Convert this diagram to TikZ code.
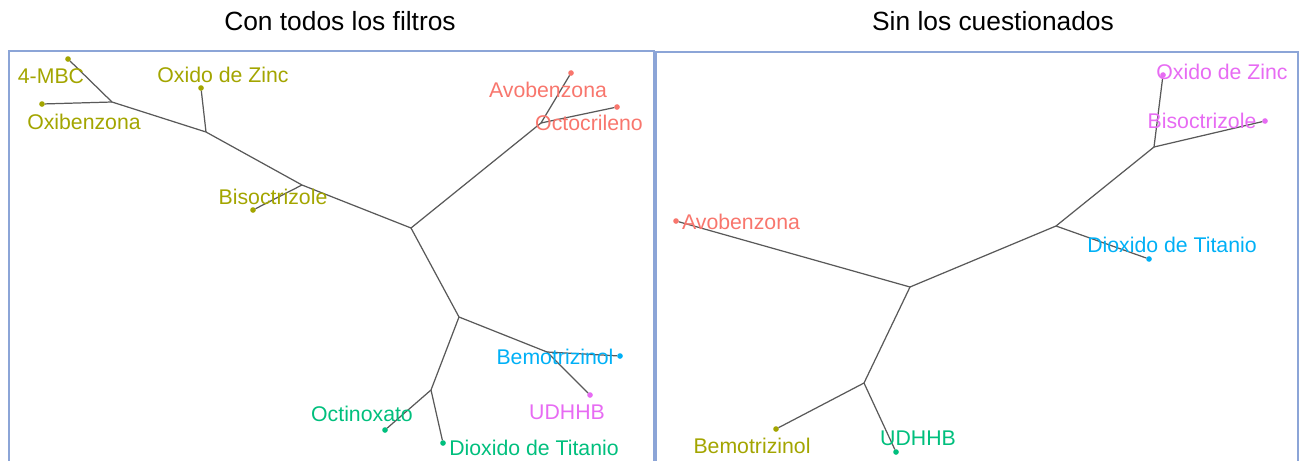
\documentclass[tikz,border=0pt]{standalone}
\usepackage{fontspec}
\setmainfont{Liberation Sans}
\definecolor{gred}{HTML}{F8766D}
\definecolor{golive}{HTML}{A3A500}
\definecolor{ggreen}{HTML}{00BF7D}
\definecolor{gblue}{HTML}{00B0F6}
\definecolor{gpink}{HTML}{E76BF3}
\definecolor{frameblue}{RGB}{140,165,215}
\begin{document}
\begin{tikzpicture}[x=0.02cm,y=-0.02cm,inner sep=0pt,outer sep=0pt,
edge/.style={draw=black!65,line width=0.7pt},
leaf/.style={circle,fill,minimum size=3.2pt},
lab/.style={font=\fontsize{12.1}{14}\selectfont},
ttl/.style={anchor=base,font=\fontsize{15}{18}\selectfont},
panel/.style={draw=frameblue,line width=0.6pt}]
\useasboundingbox (0,0) rectangle (1302,460);
\node[ttl] (T1) at (340,30) {Con todos los filtros};
\node[ttl] (T2) at (993,30) {Sin los cuestionados};
\draw[panel] (9,470) -- (9,51) -- (654,51) -- (654,470);
\draw[panel] (656,470) -- (656,52) -- (1298,52) -- (1298,470);
% left tree
\coordinate (a1) at (112,102);
\coordinate (a2) at (206,132);
\coordinate (a3) at (302,185);
\coordinate (c0) at (411,228);
\coordinate (a4) at (541,123);
\coordinate (a5) at (459,317);
\coordinate (a6) at (547,352);
\coordinate (a7) at (431,390);
\node[leaf,golive] (mbc) at (68,59) {};
\node[leaf,golive] (oxb) at (42,104) {};
\node[leaf,golive] (zinc) at (201,88) {};
\node[leaf,golive] (biso) at (253,210) {};
\node[leaf,gred] (avo) at (571,73) {};
\node[leaf,gred] (octo) at (617,107) {};
\node[leaf,gblue] (bemo) at (620,356) {};
\node[leaf,gpink] (udh) at (590,395) {};
\node[leaf,ggreen] (octi) at (385,430) {};
\node[leaf,ggreen] (tio) at (443,443) {};
\draw[edge] (mbc) -- (a1) -- (a2) -- (a3) -- (c0) -- (a4) -- (avo);
\draw[edge] (oxb) -- (a1);
\draw[edge] (zinc) -- (a2);
\draw[edge] (biso) -- (a3);
\draw[edge] (a4) -- (octo);
\draw[edge] (c0) -- (a5) -- (a6) -- (bemo);
\draw[edge] (a6) -- (udh);
\draw[edge] (a5) -- (a7) -- (octi);
\draw[edge] (a7) -- (tio);
\node[lab,golive] (lmbc) at (51,76) {4-MBC};
\node[lab,golive] (loxb) at (84,122) {Oxibenzona};
\node[lab,golive] (lzinc) at (223,75) {Oxido de Zinc};
\node[lab,golive] (lbiso) at (273,197) {Bisoctrizole};
\node[lab,gred] (lavo) at (548,90) {Avobenzona};
\node[lab,gred] (locto) at (589,123) {Octocrileno};
\node[lab,gblue] (lbemo) at (555,357) {Bemotrizinol};
\node[lab,gpink] (ludh) at (567,412) {UDHHB};
\node[lab,ggreen] (locti) at (362,414) {Octinoxato};
\node[lab,ggreen] (ltio) at (534,448) {Dioxido de Titanio};
% right tree
\coordinate (b0) at (910,287);
\coordinate (b1) at (1056,226);
\coordinate (b2) at (1154,147);
\coordinate (b3) at (864,383);
\node[leaf,gred] (ravo) at (676,221) {};
\node[leaf,gblue] (rtio) at (1149,259) {};
\node[leaf,gpink] (rzinc) at (1163,75) {};
\node[leaf,gpink] (rbiso) at (1265,121) {};
\node[leaf,golive] (rbemo) at (776,429) {};
\node[leaf,ggreen] (rudh) at (896,452) {};
\draw[edge] (ravo) -- (b0) -- (b1) -- (b2) -- (rzinc);
\draw[edge] (b1) -- (rtio);
\draw[edge] (b2) -- (rbiso);
\draw[edge] (b0) -- (b3) -- (rbemo);
\draw[edge] (b3) -- (rudh);
\node[lab,gred] (lravo) at (741,222) {Avobenzona};
\node[lab,gblue] (lrtio) at (1172,245) {Dioxido de Titanio};
\node[lab,gpink] (lrzinc) at (1222,72) {Oxido de Zinc};
\node[lab,gpink] (lrbiso) at (1202,121) {Bisoctrizole};
\node[lab,golive] (lrbemo) at (752,446) {Bemotrizinol};
\node[lab,ggreen] (lrudh) at (918,438) {UDHHB};
\end{tikzpicture}
\end{document}
